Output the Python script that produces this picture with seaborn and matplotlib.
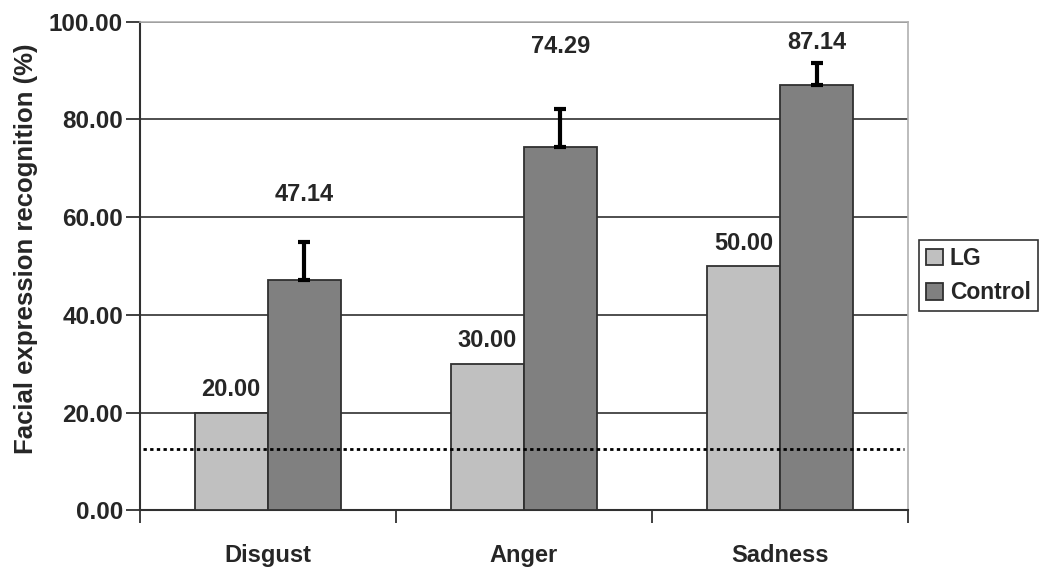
import numpy as np
import pandas as pd
import seaborn as sns
import matplotlib.pyplot as plt

emotions = ['Disgust', 'Anger', 'Sadness']
lg_values = [20.00, 30.00, 50.00]
control_values = [47.14, 74.29, 87.14]
control_err = [7.8, 7.9, 4.4]
# how far above each control bar its label sits (Excel moved them to dodge the error bars)
control_label_offset = [17.4, 20.6, 8.6]
chance_level = 12.5

df = pd.DataFrame({
    'Emotion': emotions * 2,
    'Group': ['LG'] * 3 + ['Control'] * 3,
    'Score': lg_values + control_values,
})

sns.set_style('white')
plt.rcParams['font.family'] = ['Liberation Sans', 'DejaVu Sans']

fig, ax = plt.subplots(figsize=(10.5, 5.72), dpi=100)
fig.subplots_adjust(left=0.133, right=0.865, top=0.962, bottom=0.108)

sns.barplot(data=df, x='Emotion', y='Score', hue='Group', ax=ax,
            palette={'LG': '#c0c0c0', 'Control': '#808080'},
            width=0.57, edgecolor='#303030', linewidth=1.3,
            errorbar=None, saturation=1, zorder=3)

lg_bars, ctrl_bars = ax.containers[0], ax.containers[1]

# error bars only upward on control
xs = [p.get_x() + p.get_width() / 2 for p in ctrl_bars]
ax.errorbar(xs, control_values, yerr=[np.zeros(3), control_err], fmt='none',
            ecolor='black', elinewidth=3, capsize=4.5, capthick=3, zorder=4)

for p, v in zip(lg_bars, lg_values):
    ax.text(p.get_x() + p.get_width() / 2, v + 2.3, f'{v:.2f}', ha='center',
            va='bottom', fontsize=17, fontweight='bold')
for x, v, off in zip(xs, control_values, control_label_offset):
    ax.text(x, v + off, f'{v:.2f}', ha='center', va='center',
            fontsize=17, fontweight='bold')

ax.axhline(chance_level, color='black', linestyle=(0, (1.2, 1.2)), lw=2, zorder=5,
           xmin=0.005, xmax=0.995)

ax.set_ylim(0, 100)
ax.set_xlim(-0.5, 2.5)
ax.set_yticks(np.arange(0, 101, 20))
ax.set_yticklabels([f'{t:.2f}' for t in np.arange(0, 101, 20)])
ax.yaxis.grid(True, color='#404040', lw=1.3, zorder=0)
ax.set_axisbelow(True)

ax.set_xticks([-0.5, 0.5, 1.5, 2.5], minor=True)
ax.tick_params(axis='x', which='major', length=0, pad=24, labelsize=17)
ax.tick_params(axis='x', which='minor', length=9, width=1.3, color='#303030',
               direction='out', bottom=True)
ax.tick_params(axis='y', length=10, width=1.3, color='#303030', direction='out',
               left=True, labelsize=17.5, pad=2)
for lab in ax.get_xticklabels() + ax.get_yticklabels():
    lab.set_fontweight('bold')

ax.set_xlabel('')
ax.set_ylabel('Facial expression recognition (%)', fontsize=18.5, fontweight='bold')
ax.yaxis.set_label_coords(-0.132, 0.535)

for s in ['left', 'bottom']:
    ax.spines[s].set_color('#303030')
    ax.spines[s].set_linewidth(1.5)
for s in ['top', 'right']:
    ax.spines[s].set_color('#b0b0b0')
    ax.spines[s].set_linewidth(1.2)

leg = ax.legend(loc='center left', bbox_to_anchor=(1.014, 0.48), frameon=True,
                fancybox=False, edgecolor='black', handlelength=0.75,
                handleheight=0.75, handletextpad=0.3, borderpad=0.3,
                borderaxespad=0, labelspacing=0.5, prop={'size': 16.5, 'weight': 'bold'})
leg.get_frame().set_linewidth(1.2)

fig.savefig('out.png', dpi=100)
